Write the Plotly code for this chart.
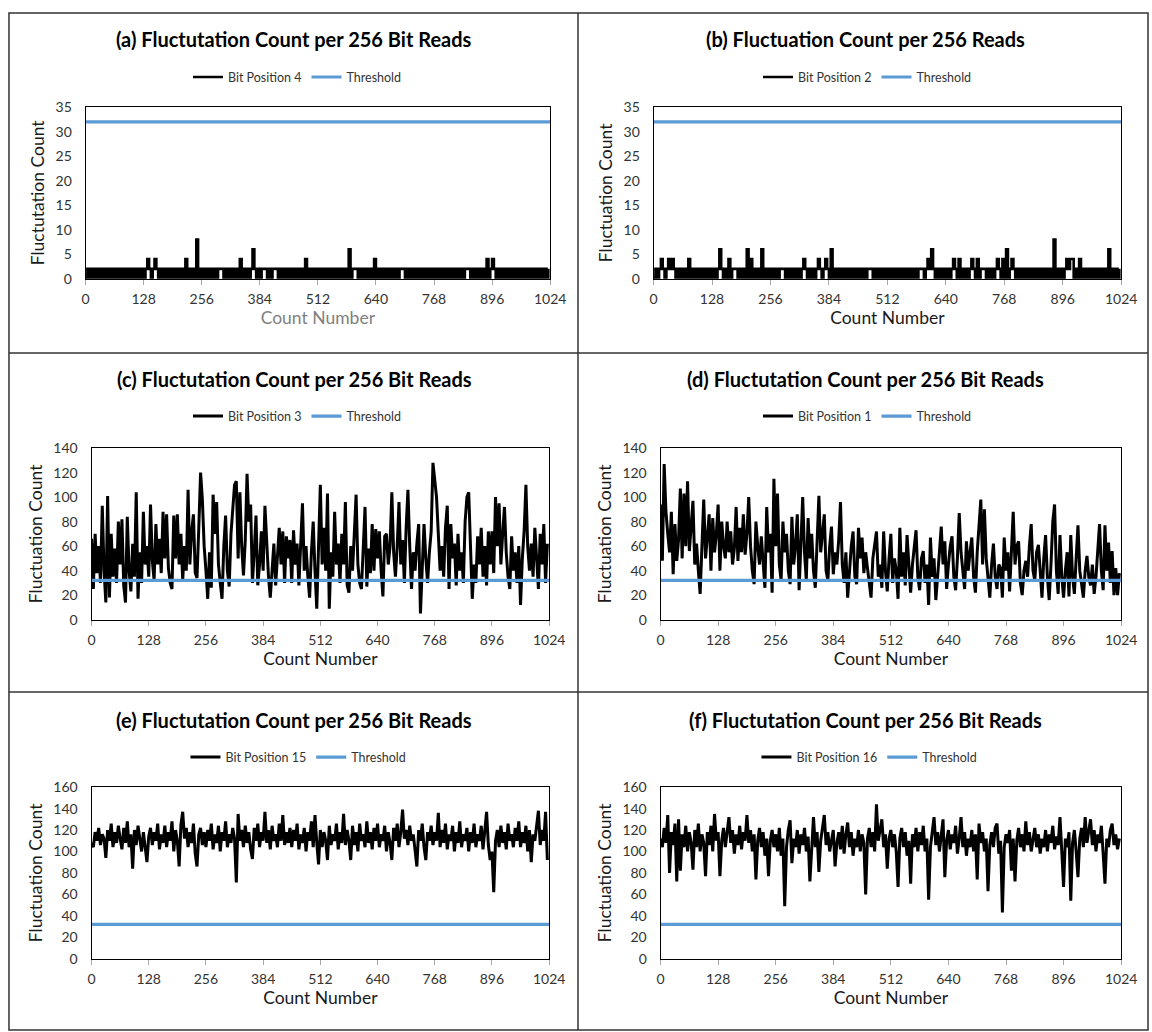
import plotly.graph_objects as go

# ---------------- data ----------------
COUNTS = list(range(0, 1024, 4))          # count number (sampled every 4 counts)
X_TICKS = [0, 128, 256, 384, 512, 640, 768, 896, 1024]
THRESHOLD = 32

BIT4 = [
    0,2,0,2,0,2,0,2,0,2,0,2,0,2,0,2,
    0,2,0,2,0,2,0,2,0,2,0,2,0,2,0,2,
    0,2,4,2,0,2,4,2,0,2,0,2,0,2,0,2,
    0,2,0,2,0,2,0,4,0,2,0,2,0,8,0,2,
    0,2,0,2,0,2,0,2,0,2,2,2,0,2,0,2,
    0,2,0,2,0,4,0,2,0,2,0,2,6,2,0,2,
    0,2,2,2,0,2,0,2,2,2,0,2,0,2,0,2,
    0,2,0,2,0,2,0,2,0,4,0,2,0,2,0,2,
    0,2,0,2,0,2,0,2,0,2,0,2,0,2,0,2,
    0,6,0,2,2,2,0,2,0,2,0,2,0,2,0,4,
    0,2,0,2,0,2,0,2,0,2,0,2,0,2,2,2,
    0,2,0,2,0,2,0,2,0,2,0,2,0,2,0,2,
    0,2,0,2,0,2,0,2,0,2,0,2,0,2,0,2,
    0,2,2,2,0,2,0,2,0,2,0,2,0,4,0,2,
    4,2,0,2,0,2,0,2,0,2,0,2,0,2,0,2,
    0,2,0,2,0,2,0,2,0,2,0,2,0,2,0,2,
]

BIT2 = [
    0,2,0,2,4,2,0,2,4,2,4,2,0,2,0,2,
    0,2,0,4,0,2,0,2,0,2,0,2,0,2,0,2,
    0,2,0,2,6,2,0,2,0,4,0,2,2,2,0,2,
    0,2,0,6,0,4,0,2,0,2,0,6,0,2,0,2,
    0,2,0,2,0,2,2,2,0,2,0,2,0,2,0,2,
    0,2,4,2,0,2,0,2,0,2,4,2,0,2,4,2,
    0,6,0,2,0,2,0,2,0,2,0,2,0,2,0,2,
    0,2,0,2,0,2,2,2,0,2,0,2,0,2,0,2,
    0,2,0,2,0,2,0,2,0,2,0,2,0,2,0,2,
    0,2,2,2,0,2,4,2,6,2,0,2,0,2,0,2,
    0,2,0,2,4,2,0,4,0,2,0,2,0,2,4,2,
    0,4,0,2,2,2,0,2,0,2,0,2,4,2,0,4,
    0,6,0,2,4,2,0,2,0,2,0,2,0,2,0,2,
    0,2,0,2,0,2,0,2,0,2,0,8,0,2,0,2,
    0,2,4,2,4,4,0,2,0,4,0,2,0,2,0,2,
    0,2,0,2,0,2,0,2,0,6,0,2,0,2,0,2,
]

BIT3 = [
    66,25,70,38,60,30,93,40,14,101,18,70,35,58,30,80,
    45,82,28,14,84,40,23,62,35,104,17,55,30,88,45,60,
    35,94,48,32,78,45,66,38,88,50,86,42,30,25,85,50,
    86,45,70,32,60,40,106,45,72,86,38,34,75,120,98,60,
    40,17,55,26,102,70,96,45,30,17,60,85,40,27,70,88,
    110,113,50,104,60,36,65,119,80,94,30,55,85,28,45,72,
    40,93,60,35,18,45,62,28,55,75,45,72,30,68,50,65,
    30,73,45,62,28,56,95,40,60,35,18,55,80,40,9,60,
    110,45,75,40,103,9,55,35,88,45,62,30,70,45,96,28,
    22,60,40,70,102,45,30,25,65,92,27,58,38,78,40,74,
    50,72,40,19,68,70,45,60,104,55,35,60,96,45,65,30,
    75,106,60,25,55,40,62,78,5,45,78,50,30,55,72,128,
    113,100,70,40,60,35,75,93,25,78,50,62,28,70,40,55,
    30,80,100,104,60,17,45,30,68,45,75,35,60,28,72,45,
    72,38,100,60,95,45,70,92,55,35,25,68,40,55,30,60,
    12,50,72,110,60,40,62,35,75,45,25,70,45,78,30,62,
]

BIT1 = [
    94,48,127,88,70,55,88,37,78,48,65,107,50,103,60,113,
    56,75,97,45,62,40,21,60,98,50,72,86,40,83,55,70,
    94,40,80,60,50,80,55,72,45,58,92,48,75,55,86,53,
    70,100,60,40,29,80,60,45,68,50,26,92,55,70,22,115,
    60,103,45,32,80,55,70,40,29,84,45,60,86,24,60,100,
    55,32,83,50,70,40,26,60,101,55,70,86,40,32,60,76,
    37,55,45,65,96,45,30,55,18,40,60,72,35,29,75,50,
    67,38,55,42,30,18,50,62,72,35,45,26,72,40,23,50,
    70,30,50,40,17,75,35,55,28,69,40,22,45,60,73,35,
    24,50,56,30,45,12,67,35,50,16,40,55,76,45,64,25,
    45,60,68,35,24,50,87,55,40,25,64,40,55,67,35,22,
    55,80,98,45,90,50,30,18,45,62,35,25,45,42,18,67,
    40,55,23,50,88,45,60,64,30,20,40,48,35,60,78,40,
    32,55,61,40,18,50,69,35,16,45,80,94,40,21,69,35,
    18,40,55,19,69,35,21,50,77,40,30,18,40,52,35,28,
    45,21,35,60,78,40,24,77,40,63,30,56,20,42,20,38,
]

BIT15 = [
    108,104,118,110,122,106,116,112,94,120,110,126,104,118,108,124,
    112,102,122,108,128,104,116,84,120,106,124,110,100,118,104,90,
    114,122,106,118,110,126,102,116,108,124,104,118,110,128,100,120,
    110,86,125,137,112,122,104,118,108,126,98,86,116,122,106,118,
    104,120,110,126,102,116,108,124,100,118,110,128,104,116,108,122,
    112,71,135,110,120,104,124,108,118,102,93,122,110,126,104,118,
    110,137,108,120,102,124,110,116,104,126,110,134,106,118,108,122,
    104,120,110,126,102,116,108,122,100,118,110,128,104,134,108,88,
    120,104,118,110,92,124,106,116,110,126,102,118,108,135,106,120,
    110,92,124,106,118,100,126,110,116,104,128,108,118,102,122,110,
    126,104,116,110,124,100,118,108,92,122,110,126,104,118,139,112,
    120,106,124,110,116,102,86,120,110,126,104,92,118,110,124,106,
    118,110,136,104,120,108,126,102,116,110,124,100,118,108,128,104,
    116,110,122,100,118,108,126,104,116,110,124,102,118,137,106,92,
    100,62,110,120,104,124,108,118,102,126,110,116,104,122,110,128,
    104,118,108,124,100,120,90,116,110,126,138,106,120,110,137,92,
]

BIT16 = [
    112,104,122,108,134,80,118,106,126,72,130,82,116,104,124,100,
    118,108,83,120,104,126,100,116,108,77,118,106,124,100,135,110,
    118,77,110,122,104,116,132,108,120,98,116,106,124,102,118,110,
    134,108,120,100,116,74,110,122,104,118,96,112,77,110,120,104,
    116,100,122,96,112,49,104,120,129,89,112,104,120,98,116,106,
    122,100,114,72,108,132,104,118,81,110,122,134,106,118,100,112,
    120,86,108,118,102,124,98,116,127,104,118,96,112,104,120,100,
    116,108,60,112,122,104,118,100,144,110,120,130,104,116,84,112,
    120,104,116,100,67,112,122,104,118,96,110,70,116,104,122,100,
    118,106,124,100,112,55,104,120,132,106,118,100,116,130,76,110,
    120,102,116,108,124,98,112,132,104,118,96,112,104,120,100,116,
    74,126,108,118,100,112,63,106,118,104,122,126,98,110,43,104,
    116,108,120,82,112,72,110,122,104,116,100,128,106,118,100,112,
    122,104,116,98,112,104,120,100,116,108,124,102,114,106,132,100,
    67,112,104,118,54,108,120,100,76,112,122,104,132,108,118,130,
    106,120,100,116,108,124,98,70,112,104,120,126,106,116,102,112,
]

# ---------------- layout config (reference pixel boxes) ----------------
W, H = 1152, 1032            # reference canvas (positions below are given in it)
FIG_W, FIG_H = 1166, 1040    # drawn size (the page is shown slightly scaled down)
FONT = "Lato, 'Liberation Sans', Arial, sans-serif"
BLACK_LINE = "#000000"
BLUE = "#5B9BD5"

panels = [
    dict(title="(a) Fluctutation Count per 256 Bit Reads", name="Bit Position 4", y=BIT4,
         ytitle="Fluctutation Count", ymax=35, dtick=5, xcol="#7f7f7f", shape="hv", lw=2.6,
         box=(82, 549, 99, 272), tpos=(292, 30), lpos=(295, 69)),
    dict(title="(b) Fluctuation Count per 256 Reads", name="Bit Position 2", y=BIT2,
         ytitle="Fluctuation Count", ymax=35, dtick=5, xcol="#1a1a1a", shape="hv", lw=2.6,
         box=(653, 1123, 99, 272), tpos=(866, 30), lpos=(868, 69)),
    dict(title="(c) Fluctutation Count per 256 Bit Reads", name="Bit Position 3", y=BIT3,
         ytitle="Fluctuation Count", ymax=140, dtick=20, xcol="#1a1a1a", shape="linear", lw=3,
         box=(88, 548, 443, 616), tpos=(292, 373), lpos=(295, 411)),
    dict(title="(d) Fluctutation Count per 256 Bit Reads", name="Bit Position 1", y=BIT1,
         ytitle="Fluctuation Count", ymax=140, dtick=20, xcol="#1a1a1a", shape="linear", lw=3,
         box=(660, 1123, 443, 616), tpos=(866, 373), lpos=(868, 411)),
    dict(title="(e) Fluctutation Count per 256 Bit Reads", name="Bit Position 15", y=BIT15,
         ytitle="Fluctuation Count", ymax=160, dtick=20, xcol="#1a1a1a", shape="linear", lw=3,
         box=(88, 548, 785, 958), tpos=(292, 717), lpos=(296, 755)),
    dict(title="(f) Fluctutation Count per 256 Bit Reads", name="Bit Position 16", y=BIT16,
         ytitle="Fluctuation Count", ymax=160, dtick=20, xcol="#1a1a1a", shape="linear", lw=3,
         box=(660, 1123, 785, 958), tpos=(866, 717), lpos=(870, 755)),
]

fig = go.Figure()
annotations = []
layout_axes = {}

for i, p in enumerate(panels, start=1):
    sfx = "" if i == 1 else str(i)
    leg = "legend" if i == 1 else f"legend{i}"
    xa, ya = f"x{sfx}", f"y{sfx}"
    fig.add_trace(go.Scatter(x=COUNTS, y=p["y"], mode="lines", name=p["name"],
                             line=dict(color=BLACK_LINE, width=p["lw"], shape=p["shape"]),
                             xaxis=xa, yaxis=ya, legend=leg))
    fig.add_trace(go.Scatter(x=[X_TICKS[0], X_TICKS[-1]], y=[THRESHOLD, THRESHOLD],
                             mode="lines", name="Threshold",
                             line=dict(color=BLUE, width=3.2),
                             xaxis=xa, yaxis=ya, legend=leg))
    x0, x1, y0, y1 = p["box"]
    layout_axes[f"xaxis{sfx}"] = dict(
        domain=[x0 / W, x1 / W], anchor=ya, range=[0, 1024],
        tickvals=X_TICKS, ticks="outside", ticklen=5, tickcolor="#a6a6a6",
        showline=True, linecolor="#000000", linewidth=1, mirror=True,
        showgrid=False, zeroline=False,
        tickfont=dict(family=FONT, size=14, color="#333333"),
        ticklabelstandoff=3,
        title=dict(text="Count Number", font=dict(family=FONT, size=17.5, color=p["xcol"]),
                   standoff=5),
    )
    layout_axes[f"yaxis{sfx}"] = dict(
        domain=[1 - y1 / H, 1 - y0 / H], anchor=xa, range=[0, p["ymax"]],
        dtick=p["dtick"], ticks="", showline=True, linecolor="#000000", linewidth=1,
        mirror=True, showgrid=False, zeroline=False,
        tickfont=dict(family=FONT, size=14, color="#333333"),
        ticklabelstandoff=10,
        title=dict(text=p["ytitle"], font=dict(family=FONT, size=17.5, color="#1a1a1a"),
                   standoff=6),
    )
    layout_axes[leg] = dict(
        orientation="h", x=p["lpos"][0] / W, y=1 - p["lpos"][1] / H,
        xanchor="center", yanchor="middle", bgcolor="rgba(0,0,0,0)",
        font=dict(family=FONT, size=12.5, color="#333333"),
        itemwidth=30, tracegroupgap=0,
    )
    annotations.append(dict(
        text=f"<b>{p['title']}</b>", x=p["tpos"][0] / W, y=1 - p["tpos"][1] / H,
        xref="paper", yref="paper", showarrow=False, xanchor="center", yanchor="middle",
        font=dict(family=FONT, size=20, color="#000000"),
    ))

# panel frame lines
frame = dict(color="#333333", width=1.5)
shapes = [
    dict(type="rect", xref="paper", yref="paper", x0=5 / W, x1=1150 / W,
         y0=1 - 1030 / H, y1=1 - 4 / H, line=frame),
    dict(type="line", xref="paper", yref="paper", x0=577 / W, x1=577 / W,
         y0=1 - 1030 / H, y1=1 - 4 / H, line=frame),
    dict(type="line", xref="paper", yref="paper", x0=5 / W, x1=1150 / W,
         y0=1 - 347 / H, y1=1 - 347 / H, line=frame),
    dict(type="line", xref="paper", yref="paper", x0=5 / W, x1=1150 / W,
         y0=1 - 689 / H, y1=1 - 689 / H, line=frame),
]

fig.update_layout(
    width=FIG_W, height=FIG_H, margin=dict(l=0, r=0, t=0, b=0),
    paper_bgcolor="white", plot_bgcolor="white",
    showlegend=True, annotations=annotations, shapes=shapes,
    font=dict(family=FONT),
    **layout_axes,
)

PAGE_FIX = (
    "var de=document.documentElement,b=document.body;"
    "[de,b].forEach(function(e){e.style.margin='0';e.style.padding='0';"
    "e.style.overflow='hidden';});"
)

fig.write_html("out.html", config={"displayModeBar": False}, post_script=PAGE_FIX)
